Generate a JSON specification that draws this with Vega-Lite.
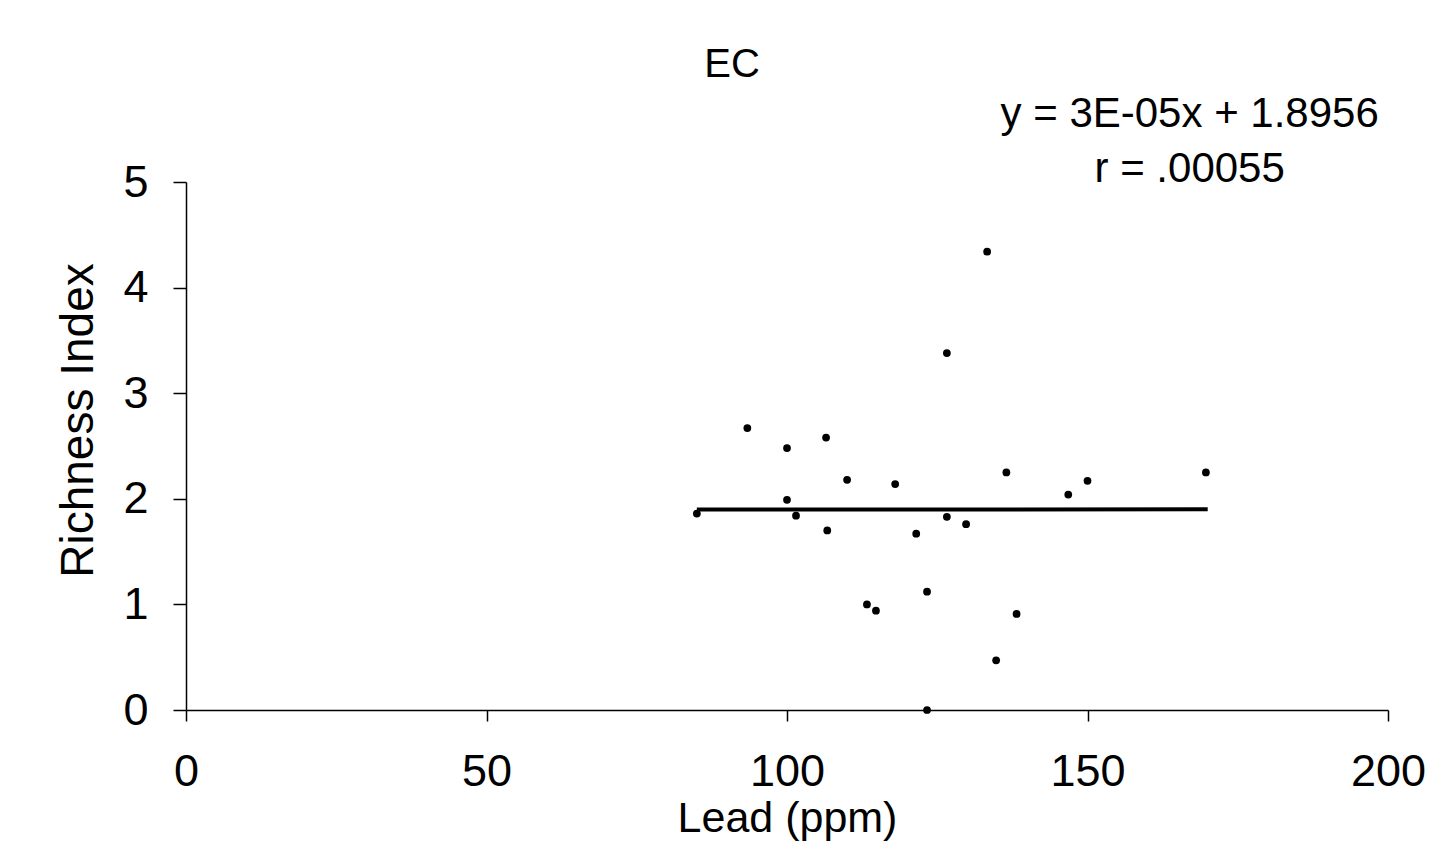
{
  "$schema": "https://vega.github.io/schema/vega-lite/v6.json",
  "width": 1202,
  "height": 528,
  "autosize": {"type": "none"},
  "padding": {"left": 186, "top": 182, "right": 59, "bottom": 144},
  "background": "white",
  "config": {
    "view": {"stroke": null},
    "font": "Liberation Sans",
    "axis": {"grid": false, "domainColor": "black", "tickColor": "black", "labelColor": "black", "titleColor": "black", "labelFont": "Liberation Sans", "titleFont": "Liberation Sans", "labelFontWeight": "normal", "titleFontWeight": "normal", "domainWidth": 1.5, "tickWidth": 1.5, "labelFlush": false}
  },
  "title": {"text": "EC", "font": "Liberation Sans", "fontSize": 40, "fontWeight": "normal", "color": "black", "anchor": "middle", "frame": "group", "dx": -55, "offset": 8},
  "datasets": {
    "points": [
      {"lead": 85, "richness": 1.86},
      {"lead": 93.4, "richness": 2.67},
      {"lead": 100, "richness": 2.48},
      {"lead": 100, "richness": 1.99},
      {"lead": 101.5, "richness": 1.84},
      {"lead": 106.5, "richness": 2.58},
      {"lead": 106.7, "richness": 1.7},
      {"lead": 110, "richness": 2.18},
      {"lead": 113.3, "richness": 1.0},
      {"lead": 114.8, "richness": 0.94},
      {"lead": 118, "richness": 2.14},
      {"lead": 121.5, "richness": 1.67},
      {"lead": 123.3, "richness": 1.12},
      {"lead": 123.3, "richness": 0.0},
      {"lead": 126.6, "richness": 3.38},
      {"lead": 126.6, "richness": 1.83},
      {"lead": 129.8, "richness": 1.76},
      {"lead": 133.3, "richness": 4.34},
      {"lead": 134.8, "richness": 0.47},
      {"lead": 136.5, "richness": 2.25},
      {"lead": 138.2, "richness": 0.91},
      {"lead": 146.8, "richness": 2.04},
      {"lead": 150, "richness": 2.17},
      {"lead": 169.7, "richness": 2.25}
    ],
    "fit": [
      {"lead": 85, "richness": 1.8982},
      {"lead": 170, "richness": 1.9007}
    ],
    "notes": [
      {"label": "y = 3E-05x + 1.8956", "lx": 167, "ly": 5.52},
      {"label": "r = .00055", "lx": 167, "ly": 5.0}
    ]
  },
  "layer": [
    {
      "data": {"name": "fit"},
      "mark": {"type": "line", "color": "black", "strokeWidth": 4},
      "encoding": {
        "x": {"field": "lead", "type": "quantitative", "scale": {"domain": [0, 200], "nice": false},
          "axis": {"values": [0, 50, 100, 150, 200], "format": "d", "title": "Lead (ppm)", "labelFontSize": 45, "titleFontSize": 43, "tickSize": 11, "labelPadding": 28, "titleY": 121, "titleBaseline": "alphabetic"}},
        "y": {"field": "richness", "type": "quantitative", "scale": {"domain": [0, 5], "nice": false},
          "axis": {"values": [0, 1, 2, 3, 4, 5], "format": "d", "title": "Richness Index", "labelFontSize": 45, "titleFontSize": 46, "tickSize": 13, "labelPadding": 25, "titleX": -94, "titleY": 238, "titleAngle": -90, "titleAlign": "center", "titleBaseline": "alphabetic"}}
      }
    },
    {
      "data": {"name": "points"},
      "mark": {"type": "circle", "color": "black", "opacity": 1, "size": 60},
      "encoding": {
        "x": {"field": "lead", "type": "quantitative"},
        "y": {"field": "richness", "type": "quantitative"}
      }
    },
    {
      "data": {"name": "notes"},
      "mark": {"type": "text", "color": "black", "font": "Liberation Sans", "fontSize": 42, "align": "center", "baseline": "alphabetic"},
      "encoding": {
        "x": {"field": "lx", "type": "quantitative"},
        "y": {"field": "ly", "type": "quantitative"},
        "text": {"field": "label"}
      }
    }
  ]
}
